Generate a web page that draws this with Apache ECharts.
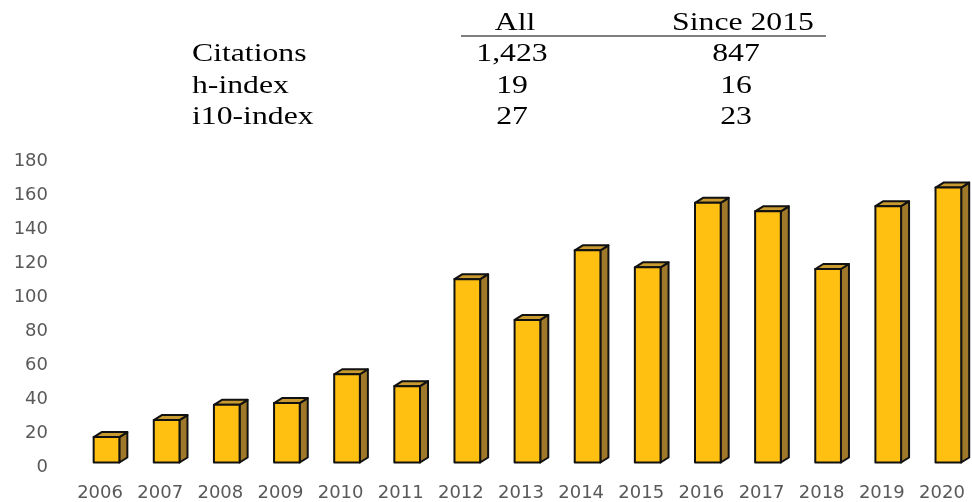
<!DOCTYPE html>
<html>
<head>
<meta charset="utf-8">
<script src="https://cdn.jsdelivr.net/npm/echarts@6/dist/echarts.min.js"></script>
<style>html,body{margin:0;padding:0;background:#fff}#c{width:972px;height:502px}</style>
</head>
<body>
<div id="c"></div>
<script>
const years = ['2006','2007','2008','2009','2010','2011','2012','2013','2014','2015','2016','2017','2018','2019','2020'];
const citations = [15, 25, 34, 35, 52, 45, 108, 84, 125, 115, 153, 148, 114, 151, 162];
const yTicks = [0, 20, 40, 60, 80, 100, 120, 140, 160, 180];
const tableHeaders = ['All', 'Since 2015'];
const tableRows = ['Citations', 'h-index', 'i10-index'];
const colAll = ['1,423', '19', '27'];
const colSince = ['847', '16', '23'];

const chart = echarts.init(document.getElementById('c'), null, {renderer: 'canvas'});

const serif = '"Liberation Serif", "Times New Roman", serif';
const txt = (s, x, y, align) => ({
  type: 'text', x: x, y: y, scaleX: 1.22, originX: 0, originY: 0,
  style: {text: s, fontFamily: serif, fontSize: 26, fill: '#000', align: align, verticalAlign: 'middle'}
});
const graphics = [];
graphics.push(txt(tableHeaders[0], 515, 23.5, 'center'));
graphics.push(txt(tableHeaders[1], 743, 23.5, 'center'));
graphics.push({type: 'line', shape: {x1: 461, y1: 36, x2: 826, y2: 36}, style: {stroke: '#555', lineWidth: 1.5}});
const rowY = [54.5, 86, 117.5];
tableRows.forEach((r, i) => {
  graphics.push(txt(r, 192, rowY[i], 'left'));
  graphics.push(txt(colAll[i], 512, rowY[i], 'center'));
  graphics.push(txt(colSince[i], 736, rowY[i], 'center'));
});

function renderItem(params, api) {
  const idx = api.value(0);
  const v = api.value(1);
  const base = api.coord([idx, 0]);
  const top = api.coord([idx, v]);
  const band = api.size([1, 0])[0];
  const w = band * 0.427;
  const shiftX = band * 0.107;
  const shiftY = -4.5;
  const dx = 8, dy = 5;
  const x0 = base[0] + shiftX - w / 2;
  const x1 = x0 + w;
  const yb = base[1] + shiftY;
  const yt = top[1] + shiftY;
  const stroke = {stroke: '#111', lineWidth: 2, lineJoin: 'round'};
  return {
    type: 'group',
    children: [
      {type: 'polygon', shape: {points: [[x1, yt], [x1 + dx, yt - dy], [x1 + dx, yb - dy], [x1, yb]]},
       style: Object.assign({fill: '#A07829'}, stroke)},
      {type: 'polygon', shape: {points: [[x0, yt], [x1, yt], [x1 + dx, yt - dy], [x0 + dx, yt - dy]]},
       style: Object.assign({fill: '#C89A2F'}, stroke)},
      {type: 'rect', shape: {x: x0, y: yt, width: w, height: yb - yt},
       style: Object.assign({fill: '#FFC012'}, stroke)}
    ]
  };
}

chart.setOption({
  animation: false,
  grid: {left: 70, right: -11, top: 161.5, bottom: 31.5, containLabel: false},
  xAxis: {
    type: 'category', data: years, boundaryGap: true,
    axisLine: {show: false}, axisTick: {show: false},
    axisLabel: {color: '#595959', fontFamily: '"DejaVu Sans", sans-serif', fontSize: 18, margin: 17, interval: 0}
  },
  yAxis: {
    type: 'value', min: yTicks[0], max: yTicks[yTicks.length - 1], interval: yTicks[1] - yTicks[0],
    axisLine: {show: false}, axisTick: {show: false}, splitLine: {show: false},
    axisLabel: {color: '#595959', fontFamily: '"DejaVu Sans", sans-serif', fontSize: 18, margin: 22}
  },
  graphic: graphics,
  series: [{
    type: 'custom', renderItem: renderItem, clip: false,
    encode: {x: 0, y: 1},
    data: citations.map((v, i) => [i, v])
  }]
});
</script>
</body>
</html>
